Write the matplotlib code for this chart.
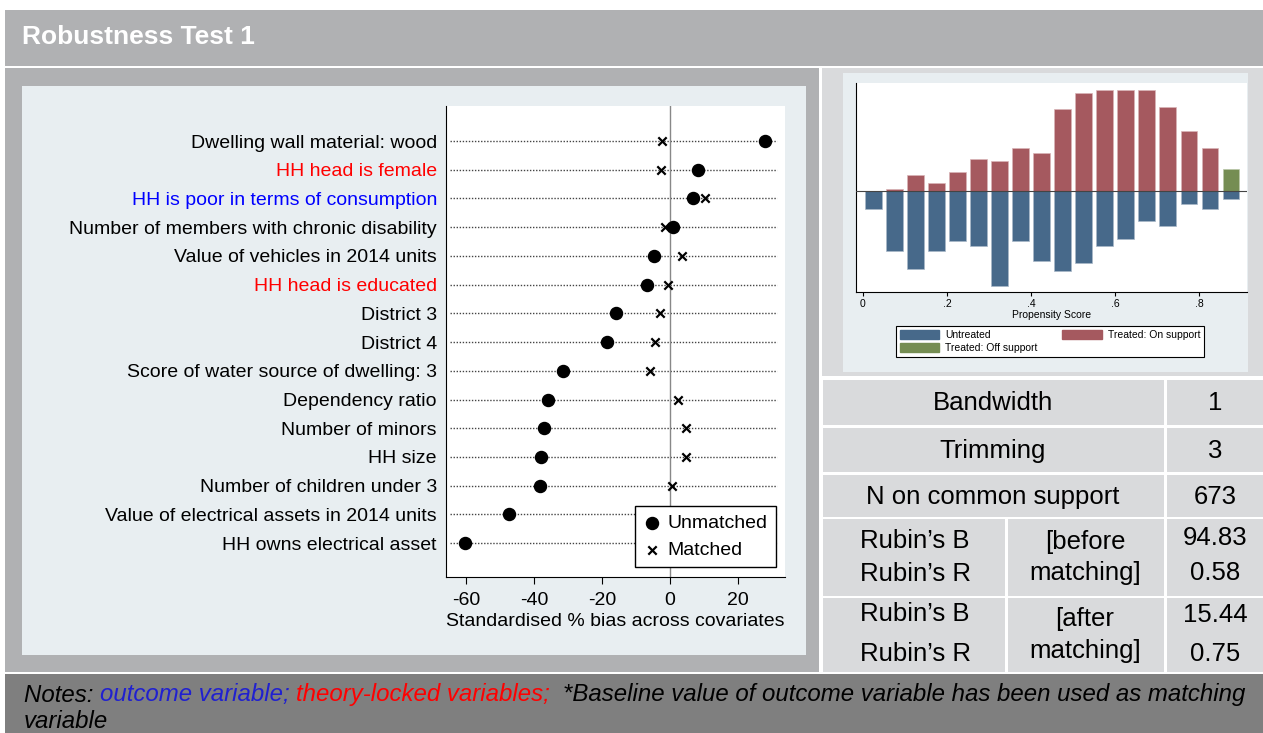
import numpy as np
import matplotlib
matplotlib.use('Agg')
import matplotlib.pyplot as plt
from matplotlib.patches import Rectangle, Patch

plt.rcParams['font.family'] = ['Liberation Sans', 'DejaVu Sans']
plt.rcParams['axes.unicode_minus'] = False

# covariate balance (standardised % bias)
covariates = [
    'Dwelling wall material: wood',
    'HH head is female',
    'HH is poor in terms of consumption',
    'Number of members with chronic disability',
    'Value of vehicles in 2014 units',
    'HH head is educated',
    'District 3',
    'District 4',
    'Score of water source of dwelling: 3',
    'Dependency ratio',
    'Number of minors',
    'HH size',
    'Number of children under 3',
    'Value of electrical assets in 2014 units',
    'HH owns electrical asset',
]
label_colors = ['black', 'red', 'blue', 'black', 'black', 'red', 'black', 'black',
                'black', 'black', 'black', 'black', 'black', 'black', 'black']
bias_unmatched = [27.9, 8.3, 6.6, 0.8, -4.6, -6.9, -16.0, -18.6,
                  -31.4, -36.0, -37.0, -38.0, -38.2, -47.4, -60.3]
bias_matched = [-2.4, -2.7, 10.3, -1.5, 3.4, -0.7, -3.1, -4.3,
                -5.9, 2.2, 4.8, 4.7, 0.7, 2.5, 1.5]
bias_ticks = [-60, -40, -20, 0, 20]

# propensity score histogram (bin centres and counts)
ps_centers = [0.025, 0.075, 0.125, 0.175, 0.225, 0.275, 0.325, 0.375, 0.425,
              0.475, 0.525, 0.575, 0.625, 0.675, 0.725, 0.775, 0.825, 0.875]
treated_on = [0, 1, 6, 3, 7, 12, 11, 16, 14, 30, 36, 37, 37, 37, 31, 22, 16, 0]
treated_off = [0, 0, 0, 0, 0, 0, 0, 0, 0, 0, 0, 0, 0, 0, 0, 0, 0, 8]
untreated = [6.5, 21.7, 28.3, 21.7, 18.2, 20.1, 34.6, 18.2, 25.6,
             29.1, 26.3, 20.1, 17.3, 10.9, 12.8, 4.6, 6.5, 2.7]
ps_ticks = [0, 0.2, 0.4, 0.6, 0.8]
ps_ticklabels = ['0', '.2', '.4', '.6', '.8']

# summary table
setting_names = ['Bandwidth', 'Trimming', 'N on common support']
setting_values = ['1', '3', '673']
rubin_stats = ['Rubin\u2019s B', 'Rubin\u2019s R']
rubin_when = [['[before', 'matching]'], ['[after', 'matching]']]
rubin_values = [['94.83', '0.58'], ['15.44', '0.75']]

title = 'Robustness Test 1'

W, H = 1263, 733
fig = plt.figure(figsize=(W / 100, H / 100), dpi=100)
fig.patch.set_facecolor('white')


def box(x0, y0, x1, y1, color, z=-5):
    fig.add_artist(Rectangle((x0 / W, 1 - y1 / H), (x1 - x0) / W, (y1 - y0) / H,
                             transform=fig.transFigure, facecolor=color,
                             edgecolor='none', zorder=z))


def axes_px(x0, y0, x1, y1):
    return fig.add_axes([x0 / W, 1 - y1 / H, (x1 - x0) / W, (y1 - y0) / H])


def ftext(x, y, s, **kw):
    return fig.text(x / W, 1 - y / H, s, **kw)


# panels
box(5, 10, 1263, 66, '#b0b1b3')
box(5, 68, 819, 672, '#b0b1b3')
box(22, 86, 806, 655, '#e8eef1', z=-4)
box(822, 68, 1263, 376, '#d9dadc')
box(843, 73, 1248, 372, '#e8eef1', z=-4)
box(5, 674, 1263, 733, '#7f7f7f')
ftext(22, 37, title, color='white', fontsize=19, fontweight='bold', va='center')

# dot plot of bias
ax = axes_px(446, 106, 785, 577)
ax.set_facecolor('white')
y = np.arange(len(covariates), 0, -1)
ax.hlines(y, -64.8, 31.5, colors='#444444', linestyles=(0, (1, 1.2)), linewidth=1.0, zorder=1)
ax.axvline(0, color='#888888', linewidth=1, zorder=1)
ax.scatter(bias_unmatched, y, s=75, marker='o', color='black', zorder=3, label='Unmatched')
ax.scatter(bias_matched, y, s=36, marker='x', color='black', linewidths=1.6, zorder=3, label='Matched')
ax.set_xlim(-65.9, 33.8)
ax.set_ylim(-0.18, 16.22)
ax.set_yticks(y)
ax.set_yticklabels(covariates, fontsize=14)
for t, c in zip(ax.get_yticklabels(), label_colors):
    t.set_color(c)
ax.tick_params(axis='y', length=0, pad=6.5)
ax.set_xticks(bias_ticks)
ax.tick_params(axis='x', labelsize=14, length=5, pad=6)
ax.set_xlabel('Standardised % bias across covariates', fontsize=14, labelpad=3)
for s in ['top', 'right']:
    ax.spines[s].set_visible(False)
leg = ax.legend(loc='upper left', bbox_to_anchor=(635 / W, 1 - 506 / H),
                bbox_transform=fig.transFigure, borderaxespad=0, fontsize=14,
                frameon=True, fancybox=False, edgecolor='black', framealpha=1,
                handletextpad=0.4, borderpad=0.45, labelspacing=0.45, handlelength=0.8)
leg.get_frame().set_linewidth(1)

# propensity score histogram
ax2 = axes_px(856, 83, 1247, 292)
ax2.set_facecolor('white')
blue, red, green = '#47698a', '#a5595f', '#758d53'
ax2.bar(ps_centers, treated_on, width=0.04, color=red, edgecolor='#d9b5b8', linewidth=0.5, zorder=2)
ax2.bar(ps_centers, treated_off, width=0.04, color=green, edgecolor='#b9c7a9', linewidth=0.5, zorder=2)
ax2.bar(ps_centers, [-u for u in untreated], width=0.04, color=blue, edgecolor='#a9b8c8', linewidth=0.5, zorder=2)
ax2.axhline(0, color='#444444', linewidth=0.8, zorder=3)
ax2.set_xlim(-0.016, 0.913)
ax2.set_ylim(-36.8, 39.6)
ax2.set_yticks([])
ax2.set_xticks(ps_ticks)
ax2.set_xticklabels(ps_ticklabels)
ax2.tick_params(axis='x', labelsize=7.5, length=3, pad=2)
ax2.set_xlabel('Propensity Score', fontsize=7.5, labelpad=1)
for s in ['top', 'right']:
    ax2.spines[s].set_visible(False)
handles = [Patch(color=blue, label='Untreated'),
           Patch(color=green, label='Treated: Off support'),
           Patch(color=red, label='Treated: On support')]
leg2 = fig.legend(handles=handles, loc='upper left', bbox_to_anchor=(896 / W, 1 - 326 / H),
                  ncol=2, fontsize=7.5, frameon=True, fancybox=False, edgecolor='black',
                  framealpha=1, handlelength=3.8, handleheight=1.0, columnspacing=2.4,
                  handletextpad=0.55, borderpad=0.35, labelspacing=0.3, borderaxespad=0)
leg2.get_frame().set_linewidth(0.8)

# summary table
box(822, 378, 1263, 672, 'white')
cell = '#d9dadc'
row_bounds = [(380, 425), (428, 472), (475, 517)]
for (y0, y1), name, val in zip(row_bounds, setting_names, setting_values):
    box(823, y0, 1164, y1, cell, z=-3)
    box(1167, y0, 1263, y1, cell, z=-3)
    yc = (y0 + y1) / 2 + 1
    ftext(993, yc, name, fontsize=18.5, ha='center', va='center')
    ftext(1215, yc, val, fontsize=18.5, ha='center', va='center')

rubin_bounds = [(519, 596), (598, 672)]
# text rows inside each Rubin block: (stat lines, when lines, value lines)
rubin_rows_y = [((541, 574), (542, 573), (538, 573)),
                ((614, 654), (619, 651), (615, 654))]
for (y0, y1), when, vals, (ys, yw, yv) in zip(rubin_bounds, rubin_when, rubin_values, rubin_rows_y):
    box(823, y0, 1005, y1, cell, z=-3)
    box(1008, y0, 1164, y1, cell, z=-3)
    box(1167, y0, 1263, y1, cell, z=-3)
    for k in range(2):
        ftext(915, ys[k], rubin_stats[k], fontsize=18.5, ha='center', va='center')
        ftext(1085, yw[k], when[k], fontsize=18.5, ha='center', va='center')
        ftext(1215, yv[k], vals[k], fontsize=18.5, ha='center', va='center')

# notes with coloured segments
renderer = fig.canvas.get_renderer()
pieces = [('Notes: ', 'black'), ('outcome variable; ', '#2020d0'),
          ('theory-locked variables;  ', 'red'),
          ('*Baseline value of outcome variable has been used as matching', 'black')]
x = 24
for s, c in pieces:
    t = ftext(x, 695, s, fontsize=17.3, style='italic', color=c, va='center')
    x += t.get_window_extent(renderer).width
ftext(24, 722, 'variable', fontsize=17.3, style='italic', color='black', va='center')

fig.savefig('out.png', dpi=100)
